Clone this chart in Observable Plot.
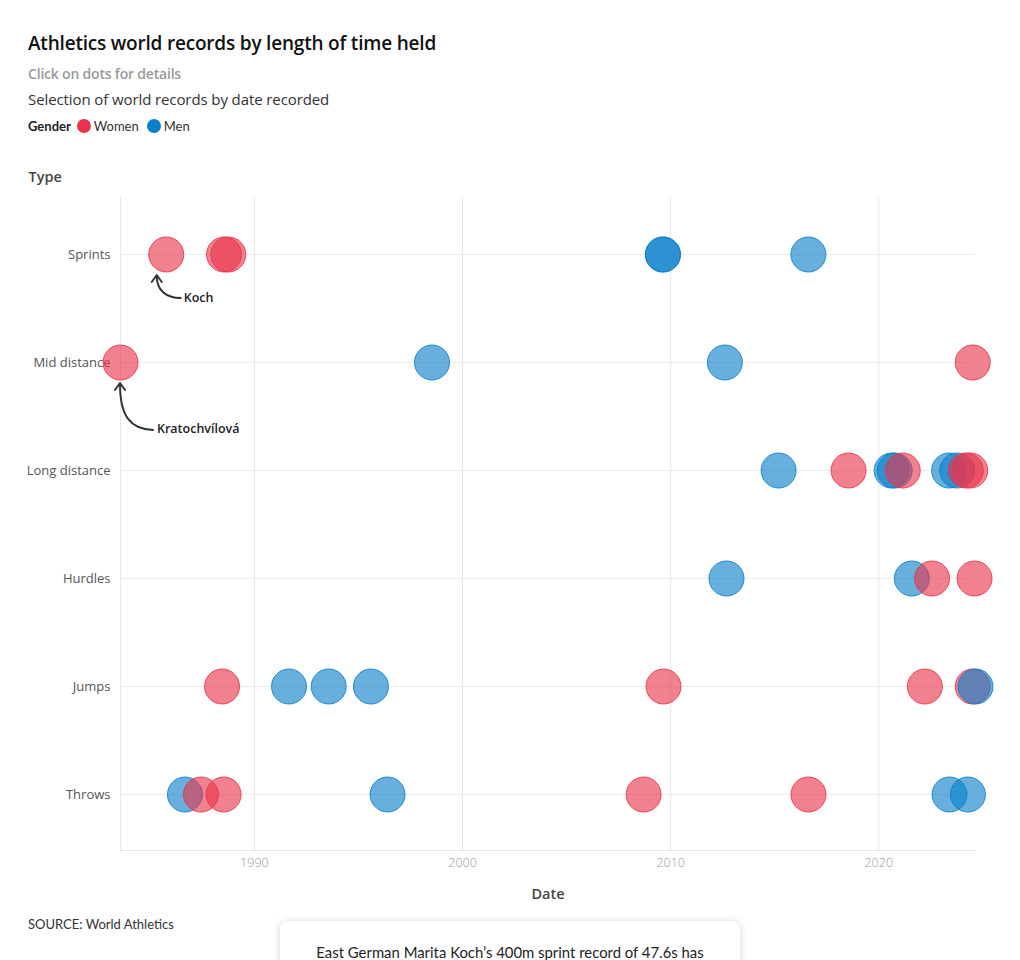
<!DOCTYPE html>
<html>
<head>
<meta charset="utf-8">
<script src="https://cdn.jsdelivr.net/npm/d3@7"></script>
<script src="https://cdn.jsdelivr.net/npm/@observablehq/plot@0.6"></script>
<style>
  html, body { margin: 0; padding: 0; background: #fff; }
  body { width: 1020px; height: 960px; position: relative; overflow: hidden; font-family: "Open Sans", Lato, sans-serif; color: #222; }
  .abs { position: absolute; left: 28px; white-space: nowrap; }
  #title { top: 31px; font-size: 19px; font-weight: 600; line-height: 24px; color: #111; letter-spacing: -0.2px; }
  #sub1 { top: 65px; font-size: 14px; font-weight: 600; line-height: 18px; color: #9a9a9a; letter-spacing: -0.2px; }
  #sub2 { top: 90px; font-size: 15px; line-height: 18px; color: #333; letter-spacing: -0.1px; }
  #legend { top: 117px; font-family: Lato, sans-serif; font-size: 13px; line-height: 18px; color: #333; display: flex; align-items: center; }
  #legend b { margin-right: 6px; color: #222; }
  #legend .sw { display: inline-block; width: 14px; height: 14px; border-radius: 50%; margin-right: 3px; }
  #legend .item { display: inline-flex; align-items: center; margin-right: 8px; }
  #chart { position: absolute; left: 0; top: 150px; }
  #source { top: 915px; font-family: Lato, sans-serif; font-size: 13px; line-height: 18px; color: #333; }
  #tip { position: absolute; left: 280px; top: 921px; width: 460px; height: 80px; background: #fff; border-radius: 8px;
         box-shadow: 0 1px 8px rgba(0,0,0,0.18); text-align: center; font-family: Lato, sans-serif; font-size: 16px; color: #222; }
  #tip div { padding-top: 21px; transform: scaleX(0.93); transform-origin: center; white-space: nowrap; }
</style>
</head>
<body>
<div id="title" class="abs">Athletics world records by length of time held</div>
<div id="sub1" class="abs">Click on dots for details</div>
<div id="sub2" class="abs">Selection of world records by date recorded</div>
<div id="legend" class="abs"></div>
<div id="chart"></div>
<div id="source" class="abs">SOURCE: World Athletics</div>
<div id="tip"><div>East German Marita Koch’s 400m sprint record of 47.6s has</div></div>
<script>
// ---- Data ----
const categories = ["Sprints", "Mid distance", "Long distance", "Hurdles", "Jumps", "Throws"];
const genders = ["Women", "Men"];
const genderColors = ["#e8334a", "#0a7fc9"];
const xTickYears = [1990, 2000, 2010, 2020];

const recType = [
  "Sprints","Sprints","Sprints","Sprints","Sprints","Sprints",
  "Mid distance","Mid distance","Mid distance","Mid distance",
  "Long distance","Long distance","Long distance","Long distance","Long distance","Long distance","Long distance","Long distance","Long distance",
  "Hurdles","Hurdles","Hurdles","Hurdles",
  "Jumps","Jumps","Jumps","Jumps","Jumps","Jumps","Jumps","Jumps",
  "Throws","Throws","Throws","Throws","Throws","Throws","Throws","Throws"
];
const recGender = [
  "Women","Women","Women","Men","Men","Men",
  "Women","Men","Men","Women",
  "Men","Women","Men","Men","Women","Men","Men","Women","Women",
  "Men","Men","Women","Women",
  "Women","Men","Men","Men","Women","Women","Women","Men",
  "Men","Women","Women","Men","Women","Women","Men","Men"
];
const recDate = [
  "1985-10-06","1988-07-16","1988-09-29","2009-08-16","2009-08-20","2016-08-14",
  "1983-07-26","1998-07-14","2012-08-09","2024-07-07",
  "2015-03-10","2018-07-20","2020-08-14","2020-10-07","2021-02-25","2023-05-20","2023-10-08","2024-03-08","2024-05-25",
  "2012-09-07","2021-08-03","2022-07-24","2024-08-08",
  "1988-06-11","1991-08-30","1993-07-27","1995-08-07","2009-08-28","2022-03-20","2024-07-07","2024-08-25",
  "1986-08-30","1987-06-07","1988-07-09","1996-05-25","2008-09-13","2016-08-15","2023-05-27","2024-04-14"
];

const annotationLabels = ["Koch", "Kratochvílová"];
const annotationType = ["Sprints", "Mid distance"];
const annotationDate = ["1985-10-06", "1983-07-26"];

// ---- Build tables ----
const parse = d3.utcParse("%Y-%m-%d");
const records = recDate.map((d, i) => ({date: parse(d), type: recType[i], gender: recGender[i]}))
  .sort((a, b) => a.date - b.date);
const annotations = annotationLabels.map((l, i) => ({label: l, type: annotationType[i], date: parse(annotationDate[i])}));
const xTicks = xTickYears.map(y => new Date(Date.UTC(y, 0, 1)));

// annotation styling (offsets relative to the dot centre)
const annStyle = {
  "Koch": {tx: 18, ty: 44, path: "M15,44 C0,44 -9,36 -9,22", head: "M-14,28 L-9,21 L-4,28"},
  "Kratochvílová": {tx: 37, ty: 67, path: "M33,68 C10,67 0,54 0,22", head: "M-5,28 L0,21 L5,28"}
};

// ---- Legend ----
const legend = document.getElementById("legend");
legend.innerHTML = "<b>Gender</b>" + genders.map((g, i) =>
  `<span class="item"><span class="sw" style="background:${genderColors[i]}"></span>${g}</span>`).join("");

// ---- Chart ----
const chart = Plot.plot({
  width: 1020,
  height: 760,
  marginLeft: 120,
  marginRight: 45,
  marginTop: 47,
  marginBottom: 60,
  style: {fontFamily: "'Open Sans', Lato, sans-serif", background: "#fff"},
  x: {type: "utc", label: null},
  y: {type: "point", domain: categories, padding: 0.5, label: null},
  color: {domain: genders, range: genderColors},
  marks: [
    Plot.gridX(xTicks, {stroke: "#e8e8e8", strokeOpacity: 1}),
    Plot.gridY({stroke: "#ececec", strokeOpacity: 1}),
    Plot.frame({anchor: "left", stroke: "#e8e8e8"}),
    Plot.frame({anchor: "bottom", stroke: "#e8e8e8"}),
    Plot.axisX(xTicks, {tickSize: 0, tickPadding: 8, tickFormat: d3.utcFormat("%Y"), fill: "#9a9a9a", fontSize: 12.5, label: null, fontWeight: 300}),
    Plot.axisY({tickSize: 0, tickPadding: 10, fill: "#555", fontSize: 13, label: null}),
    Plot.text(["Date"], {frameAnchor: "bottom", dy: 48, text: d => d, fontSize: 14.5, fontWeight: 600, fill: "#444"}),
    Plot.text(["Type"], {frameAnchor: "top-left", dx: -92, dy: -26, text: d => d, textAnchor: "start", fontSize: 14.5, fontWeight: 600, fill: "#444"}),
    Plot.dot(records, {x: "date", y: "type", r: 17.5, fill: "gender", stroke: "gender", fillOpacity: 0.62, strokeOpacity: 0.85, strokeWidth: 1}),
    Plot.dot(annotations, {
      x: "date", y: "type", r: 0,
      render(index, scales, values, dimensions, context) {
        const g = d3.create("svg:g");
        for (const i of index) {
          const cx = values.x[i], cy = values.y[i];
          const s = annStyle[annotations[i].label];
          const gg = g.append("g").attr("transform", `translate(${cx},${cy})`);
          gg.append("path").attr("d", s.path).attr("fill", "none").attr("stroke", "#333").attr("stroke-width", 2).attr("stroke-linecap", "round");
          gg.append("path").attr("d", s.head).attr("fill", "none").attr("stroke", "#333").attr("stroke-width", 2).attr("stroke-linecap", "round").attr("stroke-linejoin", "round");
          gg.append("text").attr("x", s.tx).attr("y", s.ty).attr("dy", "0.35em").attr("text-anchor", "start")
            .attr("font-size", 12.5).attr("font-weight", 600).attr("fill", "#222").text(annotations[i].label);
        }
        return g.node();
      }
    })
  ]
});
document.getElementById("chart").appendChild(chart);
</script>
</body>
</html>
